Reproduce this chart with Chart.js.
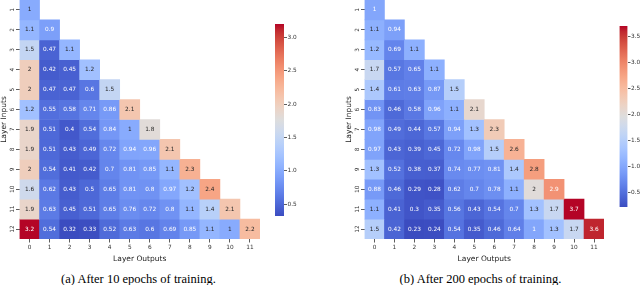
<!DOCTYPE html>
<html><head><meta charset="utf-8">
<script src="https://cdn.jsdelivr.net/npm/chart.js@4/dist/chart.umd.min.js"></script>
<style>
html,body{margin:0;padding:0;background:#fff;width:640px;height:285px;overflow:hidden;position:relative}
canvas{position:absolute;top:0}
.cap{position:absolute;top:271.5px;font-family:"Liberation Serif","Times New Roman",serif;font-size:12.5px;line-height:14px;color:#000;white-space:nowrap;transform:translateX(-50%)}
</style></head><body>
<canvas id="hA" width="260" height="265" style="left:0px;width:260px;height:265px"></canvas>
<canvas id="cA" width="40" height="240" style="left:270px;width:40px;height:240px"></canvas>
<canvas id="hB" width="259" height="265" style="left:345px;width:259px;height:265px"></canvas>
<canvas id="cB" width="26" height="240" style="left:614px;width:26px;height:240px"></canvas>
<div class="cap" id="capA" style="left:138.5px"></div>
<div class="cap" id="capB" style="left:480.5px"></div>
<script>
const rowLabels = ['1','2','3','4','5','6','7','8','9','10','11','12'];
const colLabels = ['0','1','2','3','4','5','6','7','8','9','10','11'];
const valuesA = [
  [1],
  [1.1, 0.9],
  [1.5, 0.47, 1.1],
  [2, 0.42, 0.45, 1.2],
  [2, 0.47, 0.47, 0.6, 1.5],
  [1.2, 0.55, 0.58, 0.71, 0.86, 2.1],
  [1.9, 0.51, 0.4, 0.54, 0.84, 1, 1.8],
  [1.9, 0.51, 0.43, 0.49, 0.72, 0.94, 0.96, 2.1],
  [2, 0.54, 0.41, 0.42, 0.7, 0.81, 0.85, 1.1, 2.3],
  [1.6, 0.62, 0.43, 0.5, 0.65, 0.81, 0.8, 0.97, 1.2, 2.4],
  [1.9, 0.63, 0.45, 0.51, 0.65, 0.76, 0.72, 0.8, 1.1, 1.4, 2.1],
  [3.2, 0.54, 0.32, 0.33, 0.52, 0.63, 0.6, 0.69, 0.85, 1.1, 1, 2.2]
];
const valuesB = [
  [1],
  [1.1, 0.94],
  [1.2, 0.69, 1.1],
  [1.7, 0.57, 0.65, 1.1],
  [1.4, 0.61, 0.63, 0.87, 1.5],
  [0.83, 0.46, 0.58, 0.96, 1.1, 2.1],
  [0.98, 0.49, 0.44, 0.57, 0.94, 1.3, 2.3],
  [0.97, 0.43, 0.39, 0.45, 0.72, 0.98, 1.5, 2.6],
  [1.3, 0.52, 0.38, 0.37, 0.74, 0.77, 0.81, 1.4, 2.8],
  [0.88, 0.46, 0.29, 0.28, 0.62, 0.7, 0.78, 1.1, 2, 2.9],
  [1.1, 0.41, 0.3, 0.35, 0.56, 0.43, 0.54, 0.7, 1.3, 1.7, 3.7],
  [1.5, 0.42, 0.23, 0.24, 0.54, 0.35, 0.46, 0.64, 1, 1.3, 1.7, 3.6]
];
const cbarTicksA = [0.5, 1.0, 1.5, 2.0, 2.5, 3.0];
const cbarTicksB = [0.5, 1.0, 1.5, 2.0, 2.5, 3.0, 3.5];
const xTitle = 'Layer Outputs';
const yTitle = 'Layer Inputs';
const captionA = '(a) After 10 epochs of training.';
const captionB = '(b) After 200 epochs of training.';

document.getElementById('capA').textContent = captionA;
document.getElementById('capB').textContent = captionB;

const COOLWARM = [
[59,76,192],[68,90,204],[77,104,215],[87,117,225],[98,130,234],[108,142,241],[119,154,247],[130,165,251],
[141,176,254],[152,185,255],[163,194,255],[174,201,253],[184,208,249],[194,213,244],[204,217,238],[213,219,230],
[221,221,221],[229,216,209],[236,211,197],[241,204,184],[245,196,172],[247,187,159],[247,177,147],[247,166,134],
[244,154,123],[241,141,111],[236,127,99],[229,112,89],[222,96,77],[213,80,66],[203,62,56],[192,40,47],[180,4,38]];
function cmap(t){
  t = Math.max(0, Math.min(1, t));
  const p = t*(COOLWARM.length-1); const i = Math.min(Math.floor(p), COOLWARM.length-2); const f = p-i;
  const a = COOLWARM[i], b = COOLWARM[i+1];
  return [0,1,2].map(k => a[k]+(b[k]-a[k])*f);
}
function rgb(c){ return `rgb(${Math.round(c[0])},${Math.round(c[1])},${Math.round(c[2])})`; }
function lum(c){
  const l = c.map(v => { v/=255; return v <= 0.03928 ? v/12.92 : Math.pow((v+0.055)/1.055, 2.4); });
  return 0.2126*l[0]+0.7152*l[1]+0.0722*l[2];
}
function range(values){
  const flat = values.flat();
  return [Math.min(...flat), Math.max(...flat)];
}

Chart.defaults.font.family = '"DejaVu Sans", sans-serif';
Chart.defaults.color = '#262626';

const annotPlugin = {
  id: 'annot',
  afterDatasetsDraw(chart, args, opts){
    const ctx = chart.ctx;
    const [vmin, vmax] = range(opts.values);
    ctx.save();
    ctx.font = `${opts.size}px "DejaVu Sans"`;
    ctx.textAlign = 'center'; ctx.textBaseline = 'middle';
    opts.values.forEach((row, i) => {
      const meta = chart.getDatasetMeta(i);
      row.forEach((v, j) => {
        const el = meta.data[j];
        const c = cmap((v - vmin)/(vmax - vmin));
        ctx.fillStyle = lum(c) > 0.408 ? '#262626' : '#ffffff';
        ctx.fillText(String(v), el.x, (el.y + el.base)/2);
      });
    });
    ctx.restore();
  }
};

function makeHeatmap(id, values){
  const [vmin, vmax] = range(values);
  const datasets = values.map((row, i) => ({
    data: colLabels.map((c, j) => j < row.length ? [i + 0.5, i + 1.5] : null),
    backgroundColor: colLabels.map((c, j) => j < row.length ? rgb(cmap((row[j]-vmin)/(vmax-vmin))) : 'rgba(0,0,0,0)'),
    borderWidth: 0, grouped: false, barPercentage: 1, categoryPercentage: 1
  }));
  new Chart(document.getElementById(id), {
    type: 'bar',
    data: { labels: colLabels, datasets },
    plugins: [annotPlugin],
    options: {
      responsive: false, animation: false,
      layout: { padding: 0 },
      plugins: { legend: { display: false }, tooltip: { enabled: false }, annot: { values, size: 5.8 } },
      scales: {
        x: {
          type: 'category', offset: true,
          grid: { offset: false, drawOnChartArea: false, drawTicks: true, tickLength: 3.5, color: '#333', lineWidth: 0.8 },
          border: { display: false },
          ticks: { autoSkip: false, minRotation: 0, maxRotation: 0, padding: 1.5, font: { size: 5.8 }, color: '#333' },
          title: { display: true, text: xTitle, font: { size: 7.5 }, color: '#222', padding: { top: 0, bottom: 1.5 } },
          afterFit: s => { s.height = 26; s.paddingLeft = 0; s.paddingRight = 0; }
        },
        y: {
          type: 'linear', reverse: true, min: 0.5, max: rowLabels.length + 0.5,
          afterBuildTicks: s => { s.ticks = rowLabels.map((l, i) => ({ value: i + 1 })); },
          ticks: { autoSkip: false, minRotation: 90, maxRotation: 90, crossAlign: 'center', padding: 0,
                   font: { size: 5.8 }, color: '#333', callback: (v, idx) => rowLabels[idx] },
          grid: { drawOnChartArea: false, drawTicks: true, tickLength: 3.5, color: '#333', lineWidth: 0.8 },
          border: { display: false },
          title: { display: true, text: yTitle, font: { size: 7.5 }, color: '#222', padding: 0 },
          afterFit: s => { s.width = 19.5; s.paddingTop = 0; s.paddingBottom = 0; }
        }
      }
    }
  });
}

function makeColorbar(id, values, ticksArr, padding, yWidth){
  const [vmin, vmax] = range(values);
  new Chart(document.getElementById(id), {
    type: 'bar',
    data: { labels: [''], datasets: [{
      data: [[vmin, vmax]], borderWidth: 0, barPercentage: 1, categoryPercentage: 1,
      backgroundColor: c => {
        const a = c.chart.chartArea; if (!a) return 'rgba(0,0,0,0)';
        const g = c.chart.ctx.createLinearGradient(0, a.bottom, 0, a.top);
        COOLWARM.forEach((col, k) => g.addColorStop(k/(COOLWARM.length-1), rgb(col)));
        return g;
      }
    }]},
    options: {
      responsive: false, animation: false,
      layout: { padding },
      plugins: { legend: { display: false }, tooltip: { enabled: false } },
      scales: {
        x: { display: false },
        y: {
          position: 'right', min: vmin, max: vmax,
          afterBuildTicks: s => { s.ticks = ticksArr.map(v => ({ value: v })); },
          ticks: { padding: 0.5, font: { size: 5.8 }, color: '#333', callback: v => v.toFixed(1) },
          grid: { drawOnChartArea: false, drawTicks: true, tickLength: 3, color: '#333', lineWidth: 0.8 },
          border: { display: false },
          afterFit: s => { s.width = yWidth; s.paddingTop = 0; s.paddingBottom = 0; }
        }
      }
    }
  });
}

makeHeatmap('hA', valuesA);
makeHeatmap('hB', valuesB);
makeColorbar('cA', valuesA, cbarTicksA, { left: 5, top: 24, bottom: 24, right: 0 }, 26);
makeColorbar('cB', valuesB, cbarTicksB, { left: 5.5, top: 26, bottom: 33, right: 0 }, 12.5);
</script>
</body></html>
